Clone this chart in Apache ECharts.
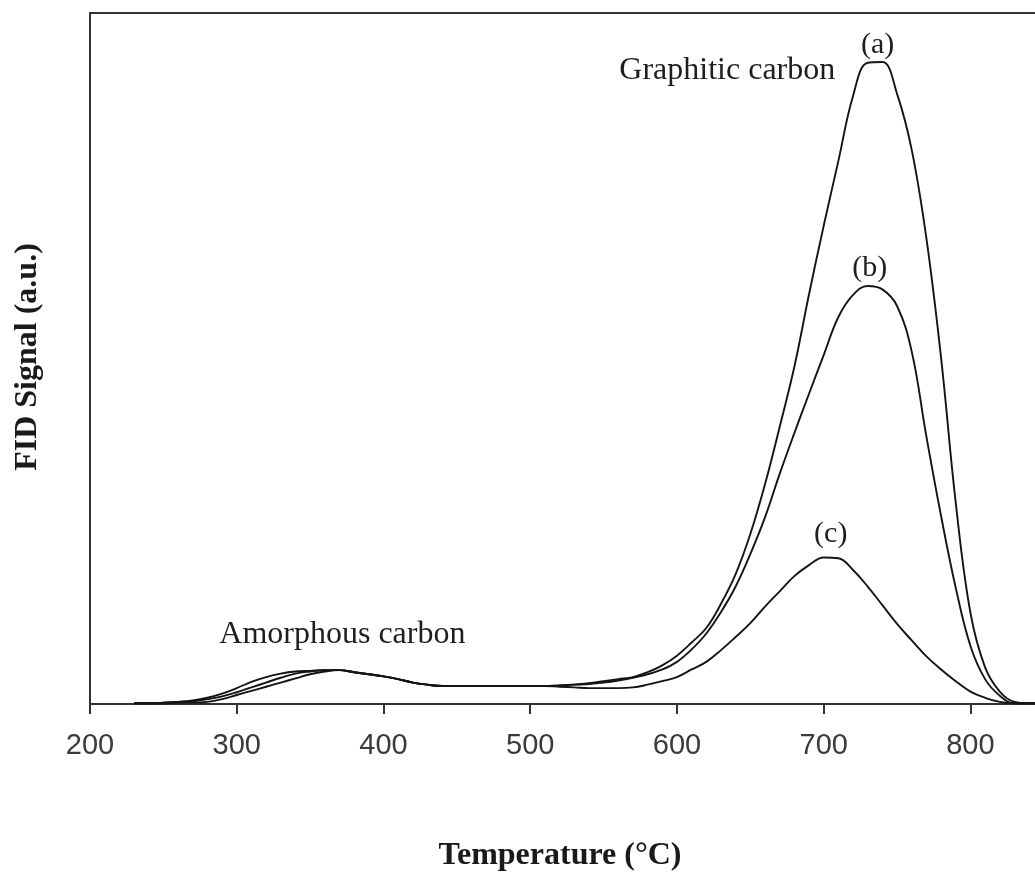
<!DOCTYPE html>
<html>
<head>
<meta charset="utf-8">
<title>TPO profiles</title>
<script src="https://cdn.jsdelivr.net/npm/echarts@6/dist/echarts.min.js"></script>
<style>
  html, body { margin: 0; padding: 0; background: #ffffff; }
  #chart { width: 1035px; height: 877px; }
</style>
</head>
<body>
<div id="chart"></div>
<script>
// Temperature grid (°C) shared by all three FID traces
const temperatures = [
  230, 240, 250, 260, 270, 280, 290, 300, 310, 320, 330, 340, 350, 360, 370,
  380, 390, 400, 410, 420, 430, 440, 450, 460, 470, 480, 490, 500, 510, 520,
  530, 540, 550, 560, 570, 580, 590, 600, 610, 620, 630, 640, 650, 660, 670,
  680, 690, 700, 710, 720, 730, 740, 750, 760, 770, 780, 790, 800, 810, 820,
  830, 840, 850
];

// FID signal (a.u.), sample (a)
const signalA = [
  0.1, 0.1, 0.2, 0.3, 0.5, 0.9, 1.5, 2.3, 3.2, 3.9, 4.4, 4.7, 4.8, 4.9, 4.9,
  4.6, 4.3, 4.0, 3.6, 3.1, 2.8, 2.6, 2.6, 2.6, 2.6, 2.6, 2.6, 2.6, 2.6, 2.7,
  2.8, 3.0, 3.3, 3.6, 3.9, 4.6, 5.6, 7.0, 8.9, 11.0, 14.5, 18.8, 24.6, 31.8, 40.1,
  48.8, 59.3, 69.2, 78.6, 88.0, 92.8, 92.9, 88.3, 80.2, 67.4, 50.1, 29.1, 13.2, 5.3, 1.8,
  0.3, 0.1, 0.1
];

// FID signal (a.u.), sample (b)
const signalB = [
  0.1, 0.1, 0.2, 0.3, 0.4, 0.7, 1.1, 1.7, 2.4, 3.1, 3.8, 4.4, 4.7, 4.9, 4.9,
  4.6, 4.3, 4.0, 3.6, 3.1, 2.8, 2.6, 2.6, 2.6, 2.6, 2.6, 2.6, 2.6, 2.6, 2.7,
  2.8, 2.9, 3.1, 3.4, 3.8, 4.3, 5.0, 6.1, 7.9, 10.2, 13.3, 17.0, 21.7, 27.0, 33.3,
  39.2, 44.9, 50.5, 56.0, 59.2, 60.5, 60.0, 57.6, 51.0, 38.7, 27.2, 16.8, 8.4, 3.6, 1.2,
  0.1, 0.1, 0.1
];

// FID signal (a.u.), sample (c)
const signalC = [
  0.1, 0.1, 0.1, 0.2, 0.2, 0.3, 0.7, 1.3, 1.9, 2.5, 3.1, 3.7, 4.3, 4.7, 4.9,
  4.6, 4.3, 4.0, 3.6, 3.1, 2.8, 2.6, 2.6, 2.6, 2.6, 2.6, 2.6, 2.6, 2.6, 2.5,
  2.4, 2.3, 2.3, 2.3, 2.4, 2.8, 3.3, 3.9, 5.0, 6.1, 7.8, 9.7, 11.7, 14.1, 16.3,
  18.5, 20.1, 21.2, 21.1, 19.4, 17.0, 14.3, 11.6, 9.2, 6.9, 5.0, 3.3, 1.8, 0.9, 0.3,
  0.1, 0.1, 0.1
];

const xTicks = [200, 300, 400, 500, 600, 700, 800];

// Visible temperature window; the plot frame runs off the right edge
const X_MIN = 200, X_MAX = 844;

const chart = echarts.init(document.getElementById('chart'), null, { renderer: 'canvas' });

function traceSeries(name, values) {
  return {
    name: name,
    type: 'line',
    data: temperatures.map((t, i) => [t, values[i]]),
    smooth: 0.4,
    smoothConstraint: false,
    symbol: 'none',
    clip: true,
    lineStyle: { color: '#141414', width: 1.9 },
    z: 3
  };
}

const serif = '"Liberation Serif", "Times New Roman", serif';
const frame = { color: '#333333', width: 2 };

chart.setOption({
  animation: false,
  backgroundColor: '#ffffff',
  grid: {
    left: 90,
    right: 0,
    top: 13,
    height: 691,
    show: false,
    containLabel: false
  },
  xAxis: [
    {
      type: 'value',
      position: 'bottom',
      min: X_MIN,
      max: X_MAX,
      interval: 100,
      axisLine: { show: true, lineStyle: frame },
      axisTick: { show: true, inside: false, length: 10, lineStyle: frame },
      axisLabel: {
        show: true,
        margin: 27,
        showMaxLabel: false,
        color: '#3a3a3a',
        fontFamily: '"Liberation Sans", Arial, sans-serif',
        fontSize: 29,
        formatter: v => (xTicks.indexOf(v) >= 0 ? String(v) : '')
      },
      splitLine: { show: false }
    },
    {
      // top edge of the frame
      type: 'value',
      position: 'top',
      min: X_MIN,
      max: X_MAX,
      axisLine: { show: true, lineStyle: frame },
      axisTick: { show: false },
      axisLabel: { show: false },
      splitLine: { show: false }
    }
  ],
  yAxis: {
    type: 'value',
    min: 0,
    max: 100,
    axisLine: { show: true, lineStyle: frame },
    axisTick: { show: false },
    axisLabel: { show: false },
    splitLine: { show: false }
  },
  series: [
    traceSeries('(a)', signalA),
    traceSeries('(b)', signalB),
    traceSeries('(c)', signalC)
  ]
});

// Text annotations anchored in data coordinates [temperature, signal]
const notes = [
  { text: 'Graphitic carbon', at: [634.3, 91.6], size: 32 },
  { text: 'Amorphous carbon', at: [372.0, 10.0], size: 32 },
  { text: '(a)', at: [736.8, 95.4], size: 30 },
  { text: '(b)', at: [731.3, 63.1], size: 30 },
  { text: '(c)', at: [704.8, 24.6], size: 30 }
];

const graphics = notes.map(n => {
  const p = chart.convertToPixel({ xAxisIndex: 0, yAxisIndex: 0 }, n.at);
  return {
    type: 'text',
    x: p[0],
    y: p[1],
    style: {
      text: n.text,
      fill: '#1e1e1e',
      font: n.size + 'px ' + serif,
      textAlign: 'center',
      textVerticalAlign: 'middle'
    },
    z: 10
  };
});

// Axis titles
graphics.push({
  type: 'text',
  x: 560,
  y: 856,
  style: {
    text: 'Temperature (°C)',
    fill: '#1a1a1a',
    font: 'bold 32px ' + serif,
    textAlign: 'center',
    textVerticalAlign: 'middle'
  },
  z: 10
});
graphics.push({
  type: 'text',
  x: 28,
  y: 357,
  rotation: Math.PI / 2,
  style: {
    text: 'FID Signal (a.u.)',
    fill: '#1a1a1a',
    font: 'bold 32px ' + serif,
    textAlign: 'center',
    textVerticalAlign: 'middle'
  },
  z: 10
});

chart.setOption({ graphic: graphics });
</script>
</body>
</html>
